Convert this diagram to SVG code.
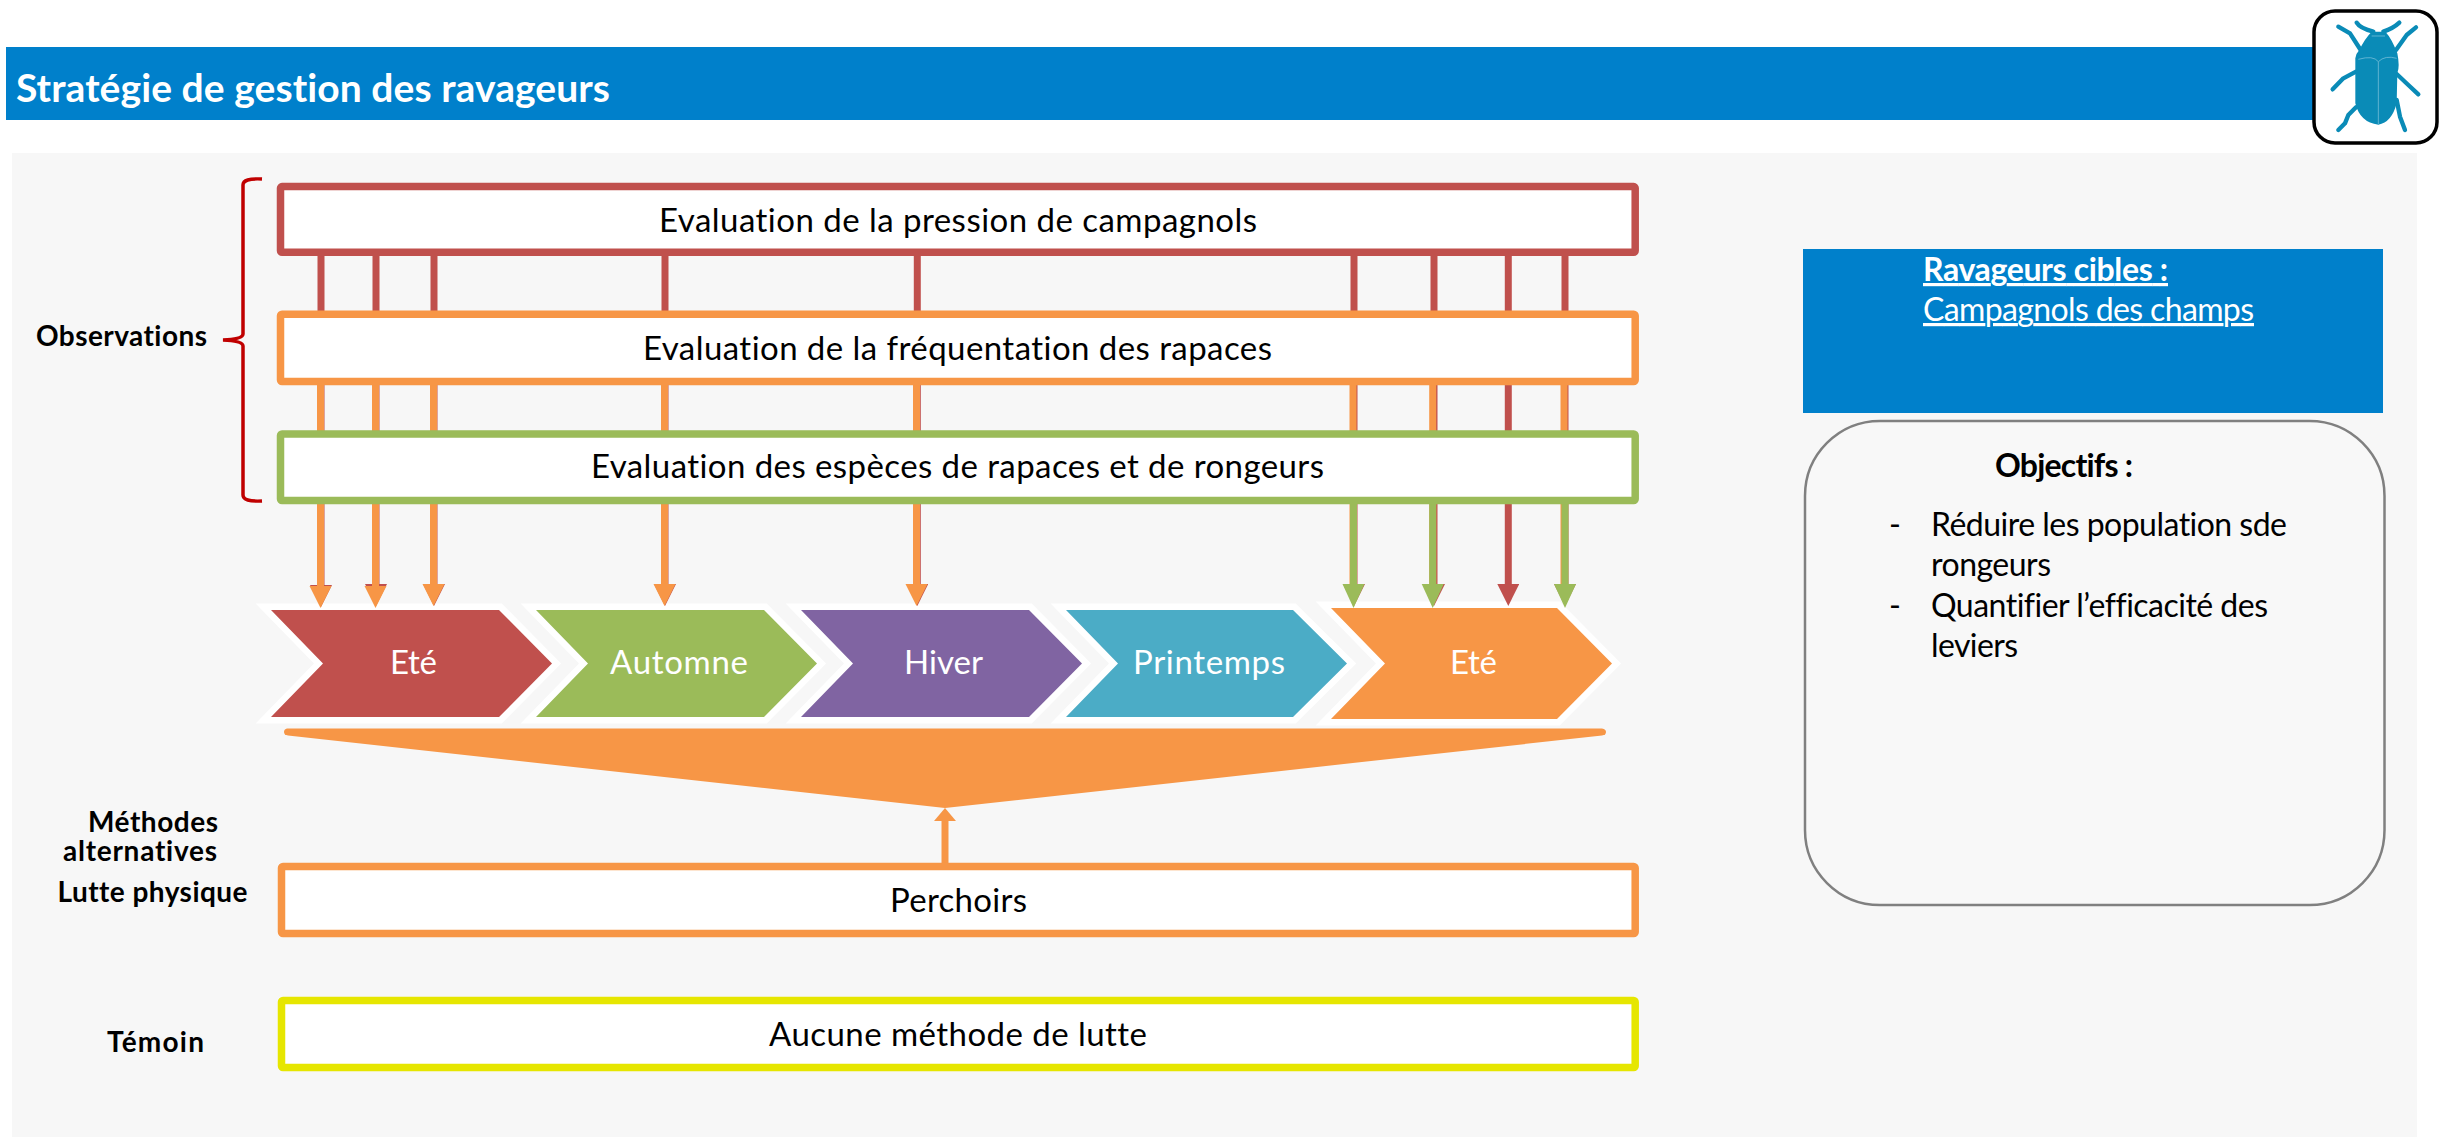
<svg xmlns="http://www.w3.org/2000/svg" width="2457" height="1138" viewBox="0 0 2457 1138">
<style>
text{font-family:Lato,"Open Sans","Liberation Sans",sans-serif;fill:#000;font-variant-ligatures:none}
.box{fill:#fff;stroke-width:7.500;rx:1.5px}
.t{font-size:33px}
.b{font-size:28px;font-weight:700}
.w{fill:#fff;font-size:33px}
.chev{stroke:#fff;stroke-width:13;stroke-miterlimit:10;paint-order:stroke}
.side{font-size:32px}
.red{stroke:#c0504d}.org{stroke:#f79646}.grn{stroke:#9bbb59}
.leg{fill:none;stroke:#0a8bb7;stroke-width:13;stroke-linecap:round;stroke-linejoin:round}
.ln{fill:none;stroke:#5fb4d2;stroke-width:3}
#connectors line{stroke-width:7}
</style>
<defs>
<marker id="hr" markerUnits="userSpaceOnUse" markerWidth="22" markerHeight="24" refX="0" refY="11" orient="auto"><path d="M0 0L22 11L0 22Z" fill="#c0504d"/></marker>
<marker id="ho" markerUnits="userSpaceOnUse" markerWidth="22" markerHeight="24" refX="0" refY="11" orient="auto"><path d="M0 0L22 11L0 22Z" fill="#f79646"/></marker>
<marker id="hg" markerUnits="userSpaceOnUse" markerWidth="24" markerHeight="24" refX="0" refY="11" orient="auto"><path d="M0 0L24 11L0 22Z" fill="#9bbb59"/></marker>
<marker id="hu" markerUnits="userSpaceOnUse" markerWidth="14" markerHeight="22" refX="0" refY="11" orient="auto"><path d="M0 0L13 11L0 22Z" fill="#f79646"/></marker>
</defs>
<rect width="2457" height="1138" fill="#fff"/>
<rect id="background" x="12" y="153" width="2405" height="984" fill="#f7f7f7"/>
<g id="header">
<rect x="6" y="47" width="2320" height="73" fill="#0080cb"/>
<text x="16" y="102" font-size="39" font-weight="700" style="fill:#fff" textLength="594">Stratégie de gestion des ravageurs</text>
</g>
<g id="beetle-icon">
<rect x="2314" y="11" width="123" height="132" rx="21" fill="#fff" stroke="#000" stroke-width="3.5"/>
<g transform="translate(2200 0) scale(.33333)">
<path class="leg" d="M470 68Q480 85 520 95M598 68Q580 85 550 95M415 80L450 100L482 150M648 82L620 105L588 150M468 215L430 235L398 268M590 222L625 255L655 283M468 322L445 345L435 370L415 390M590 300L600 350L615 390"/>
<path fill="#0a8bb7" d="M515 95L556 95Q575 115 592 160Q600 200 592 220L590 310Q575 368 535 374Q480 368 466 310L466 175Q468 160 478 150Q495 115 515 95Z"/>
<path class="ln" d="M475 178Q520 165 535 185Q555 165 590 175M535 185L535 372M515 108L555 108"/>
</g>
</g>
<g id="brace"><path d="M262 179Q243 178 243 185V334Q243 339 223 340Q243 341 243 346V495Q243 502 262 501" fill="none" stroke="#c00000" stroke-width="3.5"/></g>
<g id="label-observations"><text class="b" x="36" y="346" textLength="171">Observations</text></g>
<g id="chevrons">
<g id="ete-1"><path class="chev" fill="#c0504d" d="M271 610H499L552 663.5L499 717H271L323 663.5Z"/><text class="w" x="390" y="674" textLength="47">Eté</text></g>
<g id="automne"><path class="chev" fill="#9bbb59" d="M536 610H764L817 663.5L764 717H536L588 663.5Z"/><text class="w" x="610" y="674" textLength="138">Automne</text></g>
<g id="hiver"><path class="chev" fill="#8064a2" d="M801 610H1029L1082 663.5L1029 717H801L853 663.5Z"/><text class="w" x="904" y="674" textLength="79">Hiver</text></g>
<g id="printemps"><path class="chev" fill="#4bacc6" d="M1066 610H1293L1347 663.5L1293 717H1066L1118 663.5Z"/><text class="w" x="1133" y="674" textLength="152">Printemps</text></g>
<g id="ete-2"><path class="chev" fill="#f79646" d="M1331 608H1557L1612 663.5L1557 719H1331L1385 663.5Z"/><text class="w" x="1450" y="674" textLength="47">Eté</text></g>
</g>
<g id="funnel"><path fill="#f79646" d="M287 728.500H1602Q1606 729 1606 732Q1606 735 1602 735.500L945 808L288 735.500Q284 735 284 732Q284 729 287 728.500Z"/></g>
<g id="connectors">
<g class="red">
<line x1="321" y1="256" x2="321" y2="585" marker-end="url(#hr)"/><line x1="376" y1="256" x2="376" y2="584" marker-end="url(#hr)"/><line x1="434" y1="256" x2="434" y2="584" marker-end="url(#hr)"/><line x1="665" y1="256" x2="665" y2="584" marker-end="url(#hr)"/><line x1="917.300" y1="256" x2="917.300" y2="584" marker-end="url(#hr)"/><line x1="1354" y1="256" x2="1354" y2="584" marker-end="url(#hr)"/><line x1="1434" y1="256" x2="1434" y2="584" marker-end="url(#hr)"/><line x1="1565" y1="256" x2="1565" y2="584" marker-end="url(#hr)"/>
</g>
<g class="org">
<line x1="320.500" y1="385" x2="320.500" y2="586" marker-end="url(#ho)"/><line x1="375.500" y1="385" x2="375.500" y2="586" marker-end="url(#ho)"/><line x1="433.500" y1="385" x2="433.500" y2="584" marker-end="url(#ho)"/><line x1="664.500" y1="385" x2="664.500" y2="584" marker-end="url(#ho)"/><line x1="916.500" y1="385" x2="916.500" y2="584" marker-end="url(#ho)"/><line x1="1353" y1="385" x2="1353" y2="584"/><line x1="1432.700" y1="385" x2="1432.700" y2="584"/><line x1="1564" y1="385" x2="1564" y2="584"/>
</g>
<g class="grn">
<line x1="1353.500" y1="504" x2="1353.500" y2="584" marker-end="url(#hg)"/><line x1="1432.700" y1="504" x2="1432.700" y2="584" marker-end="url(#hg)"/><line x1="1565" y1="504" x2="1565" y2="584" marker-end="url(#hg)"/>
</g>
<line class="red" x1="1508.300" y1="256" x2="1508.300" y2="584" marker-end="url(#hr)"/>
<line class="org" x1="945" y1="863" x2="945" y2="821" marker-end="url(#hu)"/>
</g>
<g id="eval-pression"><rect class="box red" x="280.500" y="186.600" width="1354.700" height="65.700"/><text class="t" x="659" y="232" textLength="598">Evaluation de la pression de campagnols</text></g>
<g id="eval-frequentation"><rect class="box org" x="280.500" y="314.300" width="1354.700" height="67.200"/><text class="t" x="643" y="360" textLength="629">Evaluation de la fréquentation des rapaces</text></g>
<g id="eval-especes"><rect class="box grn" x="280.500" y="434" width="1354.700" height="66.500"/><text class="t" x="591" y="478" textLength="733">Evaluation des espèces de rapaces et de rongeurs</text></g>
<g id="perchoirs"><rect class="box org" x="281.500" y="866.500" width="1353.700" height="67"/><text class="t" x="890" y="912" textLength="137">Perchoirs</text></g>
<g id="aucune"><rect class="box" stroke="#e6e600" x="281.500" y="1000.500" width="1353.700" height="67"/><text class="t" x="769" y="1046" textLength="378">Aucune méthode de lutte</text></g>
<g id="label-methodes"><text class="b" x="88" y="832" textLength="130">Méthodes</text><text class="b" x="63" y="861" textLength="154">alternatives</text></g>
<g id="label-lutte"><text class="b" x="57.500" y="902" textLength="190">Lutte physique</text></g>
<g id="label-temoin"><text class="b" x="107" y="1052" textLength="97">Témoin</text></g>
<g id="ravageurs">
<rect x="1803" y="249" width="580" height="164" fill="#0080cb"/>
<text x="1923" y="281" font-size="32" font-weight="700" text-decoration="underline" style="fill:#fff" textLength="245">Ravageurs cibles :</text>
<text x="1923" y="321" font-size="32" text-decoration="underline" style="fill:#fff" textLength="331">Campagnols des champs</text>
</g>
<g id="objectifs">
<rect x="1805" y="421" width="579.500" height="484" rx="75" fill="#f8f8f8" stroke="#808080" stroke-width="2.500"/>
<text x="1995" y="477" font-size="32" font-weight="700" textLength="138">Objectifs :</text>
<text class="side" x="1889" y="536">-</text><text class="side" x="1931" y="536" textLength="356">Réduire les population sde</text>
<text class="side" x="1931" y="576" textLength="120">rongeurs</text>
<text class="side" x="1889" y="617">-</text><text class="side" x="1931" y="617" textLength="337">Quantifier l’efficacité des</text>
<text class="side" x="1931" y="657" textLength="87">leviers</text>
</g>
</svg>
